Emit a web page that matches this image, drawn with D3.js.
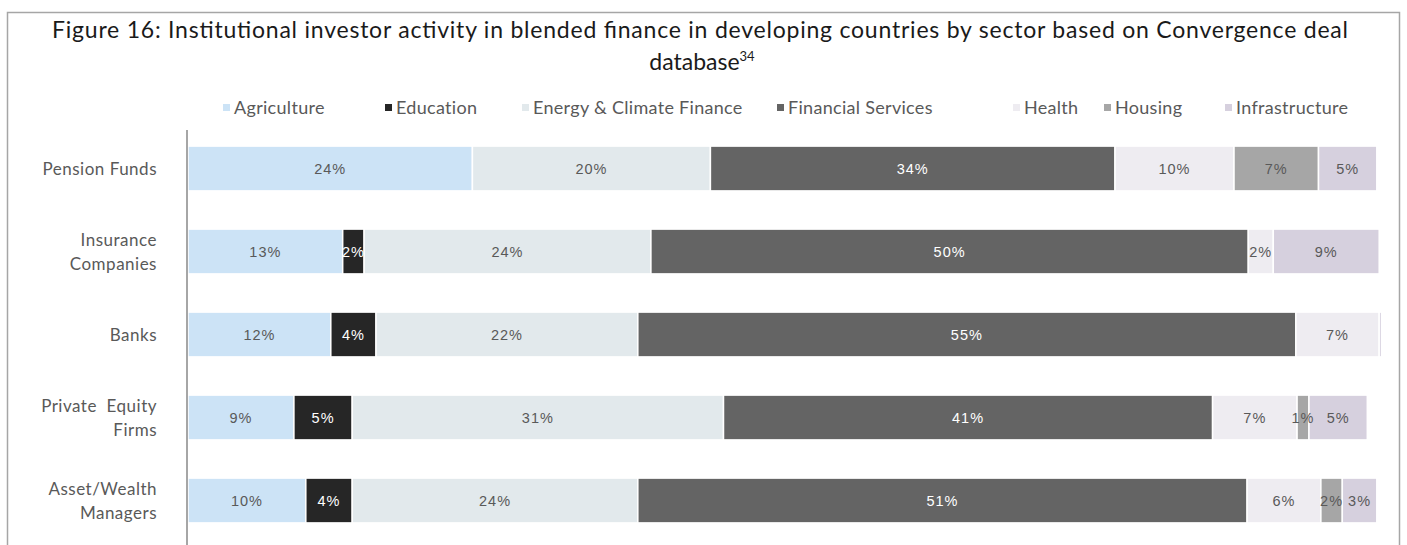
<!DOCTYPE html>
<html>
<head>
<meta charset="utf-8">
<script src="https://cdn.jsdelivr.net/npm/d3@7"></script>
<style>
  body { margin: 0; background: #fff; }
  svg { display: block; }
</style>
</head>
<body>
<svg id="chart" width="1407" height="545"></svg>
<script>
// Données (en %)

const investors = [
  ["Pension Funds"],
  ["Insurance", "Companies"],
  ["Banks"],
  ["Private  Equity", "Firms"],
  ["Asset/Wealth", "Managers"],
];

const sectors = [
  "Agriculture",
  "Education",
  "Energy & Climate Finance",
  "Financial Services",
  "Health",
  "Housing",
  "Infrastructure",
];

const sectorColors = [
  "#cce3f6",
  "#262626",
  "#e2e9ec",
  "#646464",
  "#eeecf1",
  "#a6a6a6",
  "#d6d0de",
];

const agriculture = [23.9, 13.0, 12.0, 8.9, 9.9];
const education = [0, 1.8, 3.8, 4.9, 3.9];
const energy = [20.0, 24.1, 22.0, 31.2, 24.0];
const financial = [34.0, 50.2, 55.3, 41.1, 51.2];
const health = [10.0, 2.1, 7.0, 7.1, 6.2];
const housing = [7.1, 0, 0, 1.0, 1.8];
const infrastructure = [4.9, 8.9, 0.2, 4.9, 2.9];

const seriesValues = [agriculture, education, energy, financial, health, housing, infrastructure];

// Mise en page

const width = 1407;
const height = 545;
const svg = d3.select("#chart");
const mainFont = "Lato, 'Open Sans', sans-serif";

// Cadre
svg
  .append("rect")
  .attr("x", 7.5)
  .attr("y", 12.5)
  .attr("width", 1392)
  .attr("height", 560)
  .attr("fill", "none")
  .attr("stroke", "#a6a6a6")
  .attr("stroke-width", 1.5);

// Titre
const title = svg
  .append("text")
  .attr("text-anchor", "middle")
  .style("font-family", mainFont)
  .style("font-size", "23px")
  .style("fill", "#1a1a1a");
title
  .append("tspan")
  .attr("x", 700)
  .attr("y", 38)
  .attr("textLength", 1296)
  .attr("lengthAdjust", "spacing")
  .text("Figure 16: Institutional investor activity in blended finance in developing countries by sector based on Convergence deal");
title.append("tspan").attr("x", 702).attr("y", 70).text("database");
title.append("tspan").attr("dy", -9).style("font-size", "13px").text("34");

// Légende
const legendX = [223, 385, 522, 777, 1013, 1104, 1225];
const legend = svg
  .append("g")
  .selectAll("g")
  .data(sectors)
  .enter()
  .append("g")
  .attr("transform", (d, i) => "translate(" + legendX[i] + ",108)");
legend
  .append("rect")
  .attr("x", 0)
  .attr("y", -4)
  .attr("width", 7)
  .attr("height", 7)
  .attr("fill", (d, i) => sectorColors[i]);
legend
  .append("text")
  .attr("x", 11)
  .attr("y", 6)
  .style("font-family", mainFont)
  .style("font-size", "18px")
  .style("letter-spacing", "0.3px")
  .style("fill", "#595959")
  .text((d) => d);

// Échelles
const x = d3.scaleLinear().domain([0, 100]).range([188, 1378]);
const y = d3
  .scaleBand()
  .domain(d3.range(investors.length))
  .range([127, 542])
  .paddingInner(0.46)
  .paddingOuter(0.23);

// Empilement
const rows = investors.map((inv, i) => {
  const row = { i: i };
  sectors.forEach((s, k) => (row[s] = seriesValues[k][i]));
  return row;
});
const stacked = d3.stack().keys(sectors)(rows);

const layers = svg
  .append("g")
  .selectAll("g")
  .data(stacked)
  .enter()
  .append("g")
  .attr("fill", (d, k) => sectorColors[k]);

layers
  .selectAll("rect")
  .data((d) => d.filter((p) => p[1] - p[0] > 0))
  .enter()
  .append("rect")
  .attr("x", (p) => x(p[0]))
  .attr("y", (p) => y(p.data.i))
  .attr("width", (p) => x(p[1]) - x(p[0]))
  .attr("height", y.bandwidth())
  .attr("stroke", "#fff")
  .attr("stroke-width", 1.5);

// Étiquettes de valeurs
const darkFill = ["Education", "Financial Services"];
stacked.forEach((layer) => {
  svg
    .append("g")
    .selectAll("text")
    .data(layer.filter((p) => p[1] - p[0] >= 0.5))
    .enter()
    .append("text")
    .attr("x", (p) => (x(p[0]) + x(p[1])) / 2)
    .attr("y", (p) => y(p.data.i) + y.bandwidth() / 2 + 5)
    .attr("text-anchor", "middle")
    .style("font-family", "'Liberation Sans', Arial, sans-serif")
    .style("font-size", "14.5px")
    .style("letter-spacing", "1px")
    .style("fill", darkFill.includes(layer.key) ? "#ffffff" : "#595959")
    .text((p) => Math.round(p[1] - p[0]) + "%");
});

// Axe vertical
svg
  .append("line")
  .attr("x1", 187)
  .attr("x2", 187)
  .attr("y1", 130)
  .attr("y2", height)
  .attr("stroke", "#a6a6a6")
  .attr("stroke-width", 2);

// Catégories
const catLabels = svg
  .append("g")
  .selectAll("text")
  .data(investors)
  .enter()
  .append("text")
  .attr("text-anchor", "end")
  .style("font-family", mainFont)
  .style("font-size", "17px")
  .style("letter-spacing", "0.5px")
  .style("white-space", "pre")
  .style("fill", "#595959");
catLabels
  .selectAll("tspan")
  .data((lines, i) => lines.map((l, j) => ({ l: l, j: j, n: lines.length, i: i })))
  .enter()
  .append("tspan")
  .attr("x", 157)
  .attr("y", (d) => y(d.i) + y.bandwidth() / 2 + 6 + (d.j - (d.n - 1) / 2) * 24)
  .text((d) => d.l);
</script>
</body>
</html>
